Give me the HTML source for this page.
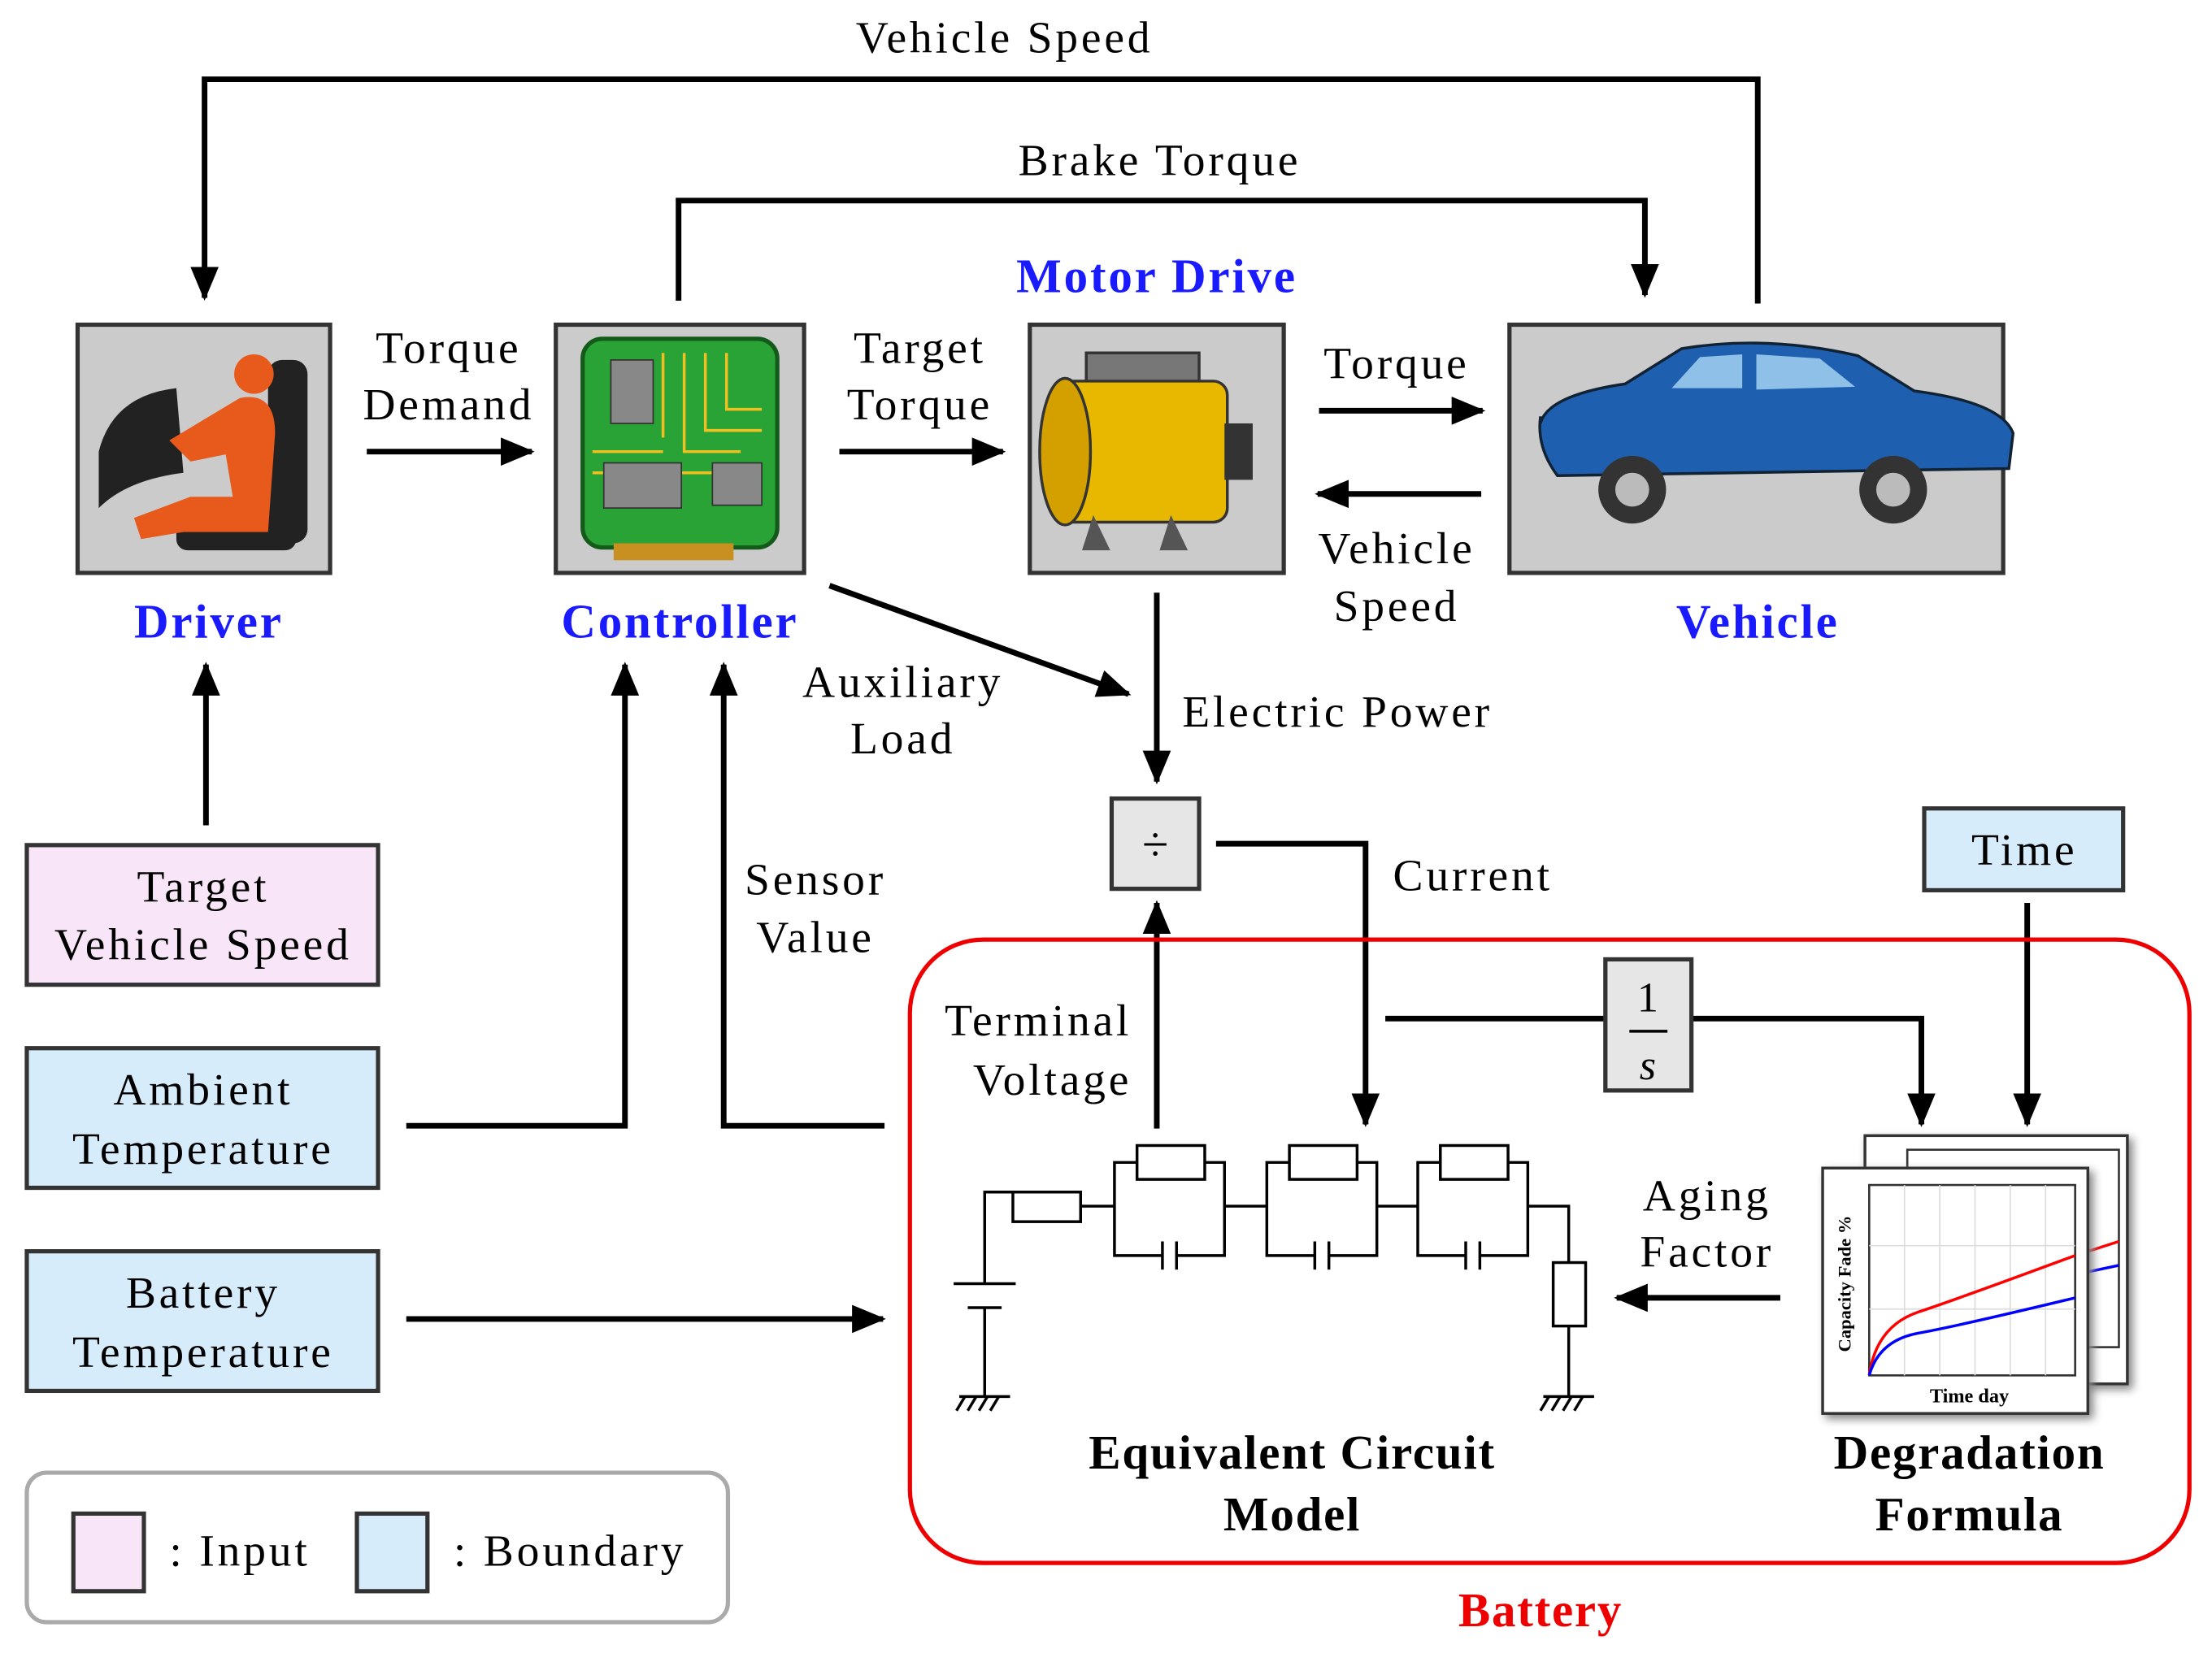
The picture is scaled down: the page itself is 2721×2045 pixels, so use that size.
<!DOCTYPE html>
<html><head><meta charset="utf-8"><style>
html,body{margin:0;padding:0;background:#fff;}
svg{display:block;}
text{font-family:"Liberation Serif",serif;}
</style></head><body>
<svg width="2721" height="2045" viewBox="0 0 1568 1178" xmlns="http://www.w3.org/2000/svg">
<defs>
<marker id="a" viewBox="0 0 24 20" refX="22" refY="10" markerWidth="24" markerHeight="20" orient="auto" markerUnits="userSpaceOnUse"><path d="M0,0 L24,10 L0,20 z" fill="#000"/></marker>
</defs>
<g fill="none" stroke="#000" stroke-width="4">
<polyline points="1246,215 1246,56 145,56 145,211" marker-end="url(#a)"/>
<polyline points="481,213 481,142 1166,142 1166,209" marker-end="url(#a)"/>
<line x1="260" y1="320" x2="377" y2="320" marker-end="url(#a)"/>
<line x1="595" y1="320" x2="711" y2="320" marker-end="url(#a)"/>
<line x1="935" y1="291" x2="1051" y2="291" marker-end="url(#a)"/>
<line x1="1050" y1="350" x2="934" y2="350" marker-end="url(#a)"/>
<line x1="588" y1="415" x2="800" y2="492" marker-end="url(#a)"/>
<line x1="820" y1="420" x2="820" y2="554" marker-end="url(#a)"/>
<polyline points="862,598 968,598 968,797" marker-end="url(#a)"/>
<line x1="820" y1="800" x2="820" y2="640" marker-end="url(#a)"/>
<line x1="146" y1="585" x2="146" y2="471" marker-end="url(#a)"/>
<polyline points="288,798 443,798 443,471" marker-end="url(#a)"/>
<polyline points="627,798 513,798 513,471" marker-end="url(#a)"/>
<line x1="288" y1="935" x2="626" y2="935" marker-end="url(#a)"/>
<line x1="1437" y1="640" x2="1437" y2="797" marker-end="url(#a)"/>
<line x1="982" y1="722" x2="1138" y2="722"/>
<polyline points="1199,722 1362,722 1362,797" marker-end="url(#a)"/>
<line x1="1262" y1="920" x2="1146" y2="920" marker-end="url(#a)"/>
</g>
<g stroke="#333" stroke-width="3" fill="#cbcbcb">
<rect x="55" y="230" width="179" height="176"/>
<rect x="394" y="230" width="176" height="176"/>
<rect x="730" y="230" width="180" height="176"/>
<rect x="1070" y="230" width="350" height="176"/>
</g>
<g>
<path d="M70,320 q10,-40 55,-45 l5,60 q-40,5 -60,25z" fill="#222"/>
<rect x="190" y="255" width="28" height="130" rx="10" fill="#222"/>
<rect x="125" y="365" width="85" height="25" rx="8" fill="#222"/>
<circle cx="180" cy="265" r="14" fill="#e85a1c"/>
<path d="M170,282 q25,-5 25,25 l-5,70 l-60,0 l-30,5 l-5,-15 l40,-15 l30,0 l-5,-30 l-25,5 l-15,-15 z" fill="#e85a1c"/>
</g>
<rect x="413" y="240" width="138" height="148" rx="14" fill="#2aa336" stroke="#145a1a" stroke-width="3"/>
<g stroke="#f0c020" stroke-width="2" fill="none">
<path d="M470,250 l0,60 M485,250 l0,70 l40,0 M500,250 l0,55 l40,0 M515,250 l0,40 l25,0 M420,320 l50,0 M420,335 l100,0"/>
</g>
<rect x="433" y="255" width="30" height="45" fill="#888" stroke="#333"/>
<rect x="428" y="328" width="55" height="32" fill="#888" stroke="#333"/>
<rect x="505" y="328" width="35" height="30" fill="#888" stroke="#333"/>
<rect x="435" y="385" width="85" height="12" fill="#c89020"/>
<rect x="770" y="250" width="80" height="25" fill="#777" stroke="#333" stroke-width="2"/>
<rect x="750" y="270" width="120" height="100" rx="10" fill="#e8b800" stroke="#333" stroke-width="2"/>
<ellipse cx="755" cy="320" rx="18" ry="52" fill="#d4a000" stroke="#333" stroke-width="2"/>
<rect x="868" y="300" width="20" height="40" fill="#333"/>
<path d="M775,365 l-8,25 l20,0z M830,365 l-8,25 l20,0z" fill="#555"/>
<path d="M1092,300 q5,-20 60,-28 l40,-25 q60,-10 125,5 l40,25 q62,8 70,30 l-3,25 l-320,5 q-15,-20 -12,-42z" fill="#1f5fb0" stroke="#123" stroke-width="2"/>
<path d="M1185,275 l20,-22 l30,-2 l0,24z M1245,251 l45,3 l25,20 l-70,2z" fill="#8fc0e8"/>
<circle cx="1157" cy="347" r="24" fill="#333"/><circle cx="1157" cy="347" r="12" fill="#bbb"/>
<circle cx="1342" cy="347" r="24" fill="#333"/><circle cx="1342" cy="347" r="12" fill="#bbb"/>
<g stroke="#333" stroke-width="3">
<rect x="19" y="599" width="249" height="99" fill="#f8e6f8"/>
<rect x="19" y="743" width="249" height="99" fill="#d6ecfb"/>
<rect x="19" y="887" width="249" height="99" fill="#d6ecfb"/>
<rect x="1364" y="573" width="141" height="58" fill="#d6ecfb"/>
<rect x="788" y="566" width="62" height="64" fill="#e6e6e6"/>
<rect x="1138" y="680" width="61" height="93" fill="#e6e6e6"/>
</g>
<rect x="645" y="666" width="907" height="442" rx="52" fill="none" stroke="#e00" stroke-width="3"/>
<g stroke="#000" stroke-width="2" fill="none">
<polyline points="698,910 698,845 718,845"/>
<line x1="676" y1="910" x2="720" y2="910"/><line x1="686" y1="927" x2="710" y2="927"/>
<line x1="698" y1="927" x2="698" y2="990"/>
<line x1="680" y1="990" x2="716" y2="990"/>
<path d="M684,990 l-6,10 M692,990 l-6,10 M700,990 l-6,10 M708,990 l-6,10"/>
<rect x="718" y="845" width="48" height="21"/>
<line x1="766" y1="855" x2="790" y2="855"/>
<g id="rc"><rect x="806" y="812" width="48" height="24"/>
<polyline points="806,824 790,824 790,890 824,890"/><polyline points="854,824 868,824 868,890 834,890"/>
<line x1="824" y1="880" x2="824" y2="900"/><line x1="834" y1="880" x2="834" y2="900"/></g>
<use href="#rc" x="108"/><use href="#rc" x="215"/>
<line x1="868" y1="855" x2="898" y2="855"/><line x1="976" y1="855" x2="1005" y2="855"/>
<polyline points="1083,855 1112,855 1112,895"/>
<rect x="1101" y="895" width="23" height="45"/>
<line x1="1112" y1="940" x2="1112" y2="990"/>
<line x1="1094" y1="990" x2="1130" y2="990"/>
<path d="M1098,990 l-6,10 M1106,990 l-6,10 M1114,990 l-6,10 M1122,990 l-6,10"/>
</g>
<g>
<rect x="1322" y="805" width="186" height="176" fill="#fff" stroke="#333" stroke-width="2" style="filter:drop-shadow(3px 3px 3px #888)"/>
<rect x="1352" y="815" width="150" height="140" fill="#fff" stroke="#333" stroke-width="1.5"/>
<path d="M1440,900 L1502,880" stroke="red" stroke-width="2"/><path d="M1440,910 L1502,897" stroke="blue" stroke-width="2"/>
<rect x="1292" y="828" width="188" height="174" fill="#fff" stroke="#333" stroke-width="2" style="filter:drop-shadow(3px 3px 3px #888)"/>
<rect x="1325" y="840" width="146" height="135" fill="#fff" stroke="#333" stroke-width="1.5"/>
<g stroke="#ddd" stroke-width="1"><path d="M1350,840v135M1375,840v135M1400,840v135M1425,840v135M1450,840v135M1325,883h146M1325,928h146"/></g>
<path d="M1325,975 Q1330,940 1360,930 T1471,890" fill="none" stroke="red" stroke-width="2"/>
<path d="M1325,975 Q1332,950 1360,945 T1471,920" fill="none" stroke="blue" stroke-width="2"/>
<text x="1312" y="910" font-size="13" font-weight="bold" text-anchor="middle" transform="rotate(-90 1312 910)">Capacity Fade %</text>
<text x="1396" y="994" font-size="14" font-weight="bold" text-anchor="middle">Time day</text>
</g>
<rect x="19" y="1044" width="497" height="106" rx="14" fill="#fff" stroke="#aaa" stroke-width="3"/>
<rect x="52" y="1073" width="50" height="55" fill="#f8e6f8" stroke="#333" stroke-width="3"/>
<rect x="253" y="1073" width="50" height="55" fill="#d6ecfb" stroke="#333" stroke-width="3"/>
<g font-size="32" text-anchor="middle" fill="#000" letter-spacing="2.2">
<text x="712" y="37">Vehicle Speed</text>
<text x="822" y="124">Brake Torque</text>
<text x="318" y="257">Torque</text><text x="318" y="297">Demand</text>
<text x="652" y="257">Target</text><text x="652" y="297">Torque</text>
<text x="990" y="268">Torque</text>
<text x="990" y="399">Vehicle</text><text x="990" y="440">Speed</text>
<text x="640" y="494">Auxiliary</text><text x="640" y="534">Load</text>
<text x="948" y="515">Electric Power</text>
<text x="1044" y="631">Current</text>
<text x="578" y="634">Sensor</text><text x="578" y="675">Value</text>
<text x="736" y="734">Terminal</text><text x="746" y="776">Voltage</text>
<text x="1210" y="858">Aging</text><text x="1210" y="898">Factor</text>
<text x="144" y="639">Target</text><text x="144" y="680">Vehicle Speed</text>
<text x="144" y="783">Ambient</text><text x="144" y="825">Temperature</text>
<text x="144" y="927">Battery</text><text x="144" y="969">Temperature</text>
<text x="1435" y="613">Time</text>
<text x="170" y="1110">: Input</text>
<text x="404" y="1110">: Boundary</text>
</g>
<g font-size="32" text-anchor="middle">
<text x="819" y="610" font-size="34">÷</text>
<text x="1168" y="717" font-size="30">1</text>
<line x1="1155" y1="731" x2="1182" y2="731" stroke="#000" stroke-width="2"/>
<text x="1168" y="765" font-size="30" font-style="italic">s</text>
</g>
<g font-size="34" font-weight="bold" text-anchor="middle" fill="#1a1aff" letter-spacing="1.6">
<text x="148" y="452">Driver</text>
<text x="482" y="452">Controller</text>
<text x="820" y="207">Motor Drive</text>
<text x="1246" y="452">Vehicle</text>
</g>
<g font-size="34" font-weight="bold" text-anchor="middle" letter-spacing="1">
<text x="916" y="1041">Equivalent Circuit</text><text x="916" y="1085">Model</text>
<text x="1396" y="1041">Degradation</text><text x="1396" y="1085">Formula</text>
<text x="1092" y="1153" fill="#e00">Battery</text>
</g>
</svg>
</body></html>
